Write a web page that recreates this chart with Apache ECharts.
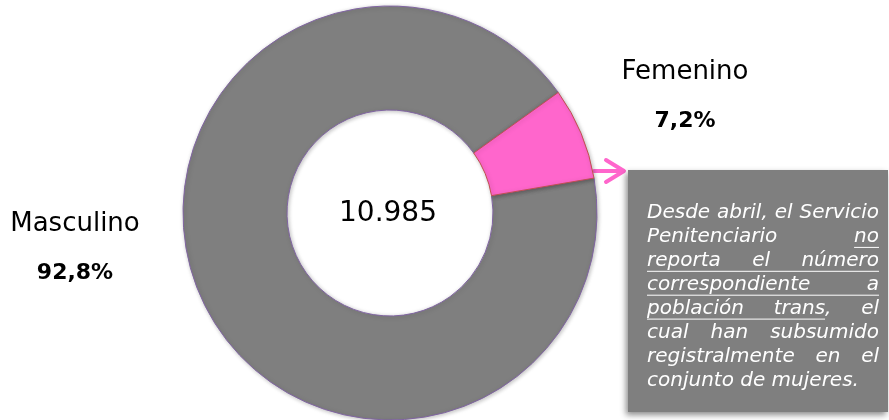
<!DOCTYPE html>
<html>
<head>
<meta charset="utf-8">
<script src="https://cdn.jsdelivr.net/npm/echarts@6/dist/echarts.min.js"></script>
<style>
  html, body { margin: 0; padding: 0; background: #fff; }
  #chart { width: 889px; height: 420px; }
</style>
</head>
<body>
<div id="chart"></div>
<script>
// datos
var categories = ['Masculino', 'Femenino'];
var values = [10194, 791];
var sliceColors = ['#7f7f7f', '#ff66cc'];
var sliceBorders = ['#8064a2', '#c0504d'];

// nota (cada palabra: [texto, subrayado])
var noteLines = [
  [['Desde', 0], ['abril,', 0], ['el', 0], ['Servicio', 0]],
  [['Penitenciario', 0], ['no', 1]],
  [['reporta', 1], ['el', 1], ['número', 1]],
  [['correspondiente', 1], ['a', 1]],
  [['población', 1], ['trans', 1], [',', 0], ['el', 0]],
  [['cual', 0], ['han', 0], ['subsumido', 0]],
  [['registralmente', 0], ['en', 0], ['el', 0]],
  [['conjunto', 0], ['de', 0], ['mujeres.', 0]]
];

var chart = echarts.init(document.getElementById('chart'));

var total = values.reduce(function (a, b) { return a + b; }, 0);
var totalText = String(total).replace(/\B(?=(\d{3})+(?!\d))/g, '.');

var FAMILY = 'DejaVu Sans';
var noteSize = 20;

// medir palabras para justificar la nota
var ctx = document.createElement('canvas').getContext('2d');
ctx.font = 'italic ' + noteSize + 'px "' + FAMILY + '"';
function w(t) { return ctx.measureText(t).width; }

var boxX = 628, boxY = 170, boxW = 260, boxH = 242;
var txtLeft = 647, txtRight = 879, firstY = 213, lineH = 23.9;

var noteGraphics = [];
noteLines.forEach(function (line, li) {
  var y = firstY + li * lineH;
  // la coma va pegada a la palabra anterior
  var words = [];
  line.forEach(function (wd) {
    if (wd[0] === ',' && words.length) {
      words[words.length - 1].push(wd);
    } else {
      words.push([wd]);
    }
  });
  var widths = words.map(function (g) {
    return g.reduce(function (s, p) { return s + w(p[0]); }, 0);
  });
  var sum = widths.reduce(function (a, b) { return a + b; }, 0);
  var last = li === noteLines.length - 1;
  var gap = (!last && words.length > 1) ? (txtRight - txtLeft - sum) / (words.length - 1) : w(' ');
  var x = txtLeft;
  var ulStart = null, ulEnd = null;
  words.forEach(function (g) {
    g.forEach(function (p) {
      var pw = w(p[0]);
      noteGraphics.push({
        type: 'text', x: x, y: y, silent: true,
        style: {
          text: p[0], fontFamily: FAMILY, fontSize: noteSize, fontStyle: 'italic',
          fill: '#ffffff', align: 'left', verticalAlign: 'middle'
        }
      });
      if (p[1]) {
        if (ulStart === null) ulStart = x;
        ulEnd = x + pw;
      }
      x += pw;
    });
    x += gap;
  });
  if (ulStart !== null) {
    noteGraphics.push({
      type: 'line', silent: true,
      shape: { x1: ulStart, y1: y + 10.5, x2: ulEnd, y2: y + 10.5 },
      style: { stroke: '#ffffff', lineWidth: 1 }
    });
  }
});

var labelPos = [
  { x: 75, y: 249 },
  { x: 685, y: 97 }
];

chart.setOption({
  animation: false,
  series: [{
    type: 'pie',
    center: [390, 213],
    radius: [103, 207],
    startAngle: 9.7,
    clockwise: true,
    percentPrecision: 1,
    data: categories.map(function (c, i) {
      return {
        name: c,
        value: values[i],
        itemStyle: { color: sliceColors[i], borderColor: sliceBorders[i], borderWidth: 1 }
      };
    }),
    itemStyle: {
      shadowBlur: 4,
      shadowColor: 'rgba(0,0,0,0.25)',
      shadowOffsetX: 1,
      shadowOffsetY: 1
    },
    label: {
      show: true,
      position: 'outside',
      formatter: function (p) {
        return '{n|' + p.name + '}\n{v|' + p.percent.toFixed(1).replace('.', ',') + '%}';
      },
      rich: {
        n: { fontFamily: FAMILY, fontSize: 26, color: '#000', lineHeight: 49 },
        v: { fontFamily: FAMILY, fontSize: 22, fontWeight: 'bold', color: '#000', lineHeight: 49 }
      }
    },
    labelLine: { show: false },
    labelLayout: function (params) {
      var p = labelPos[params.dataIndex];
      return { x: p.x, y: p.y, align: 'center', verticalAlign: 'middle' };
    },
    emphasis: { disabled: true }
  }],
  graphic: [
    {
      type: 'text', x: 388, y: 214, silent: true,
      style: {
        text: totalText, fontFamily: FAMILY, fontSize: 28, fill: '#000',
        align: 'center', verticalAlign: 'middle'
      }
    },
    {
      type: 'polyline', silent: true,
      shape: { points: [[594, 171], [623, 171]] },
      style: { stroke: '#ff66cc', lineWidth: 4, lineCap: 'round' }
    },
    {
      type: 'polyline', silent: true,
      shape: { points: [[606, 160], [624, 171], [606, 182]] },
      style: { stroke: '#ff66cc', fill: null, lineWidth: 4, lineCap: 'round', lineJoin: 'round' }
    },
    {
      type: 'rect', silent: true,
      shape: { x: boxX, y: boxY, width: boxW, height: boxH },
      style: {
        fill: '#7f7f7f',
        shadowBlur: 6, shadowColor: 'rgba(0,0,0,0.45)', shadowOffsetX: -2, shadowOffsetY: 3
      }
    }
  ].concat(noteGraphics)
});
</script>
</body>
</html>
